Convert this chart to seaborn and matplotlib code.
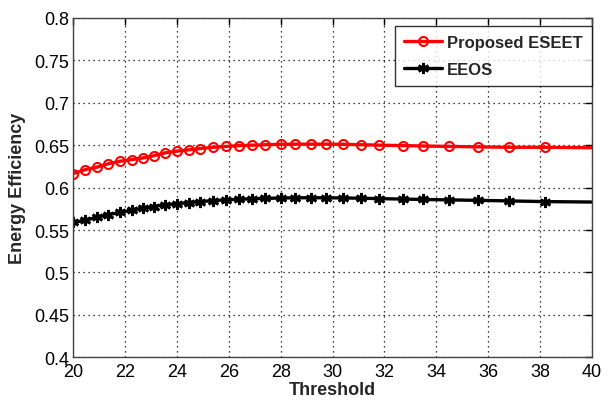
import numpy as np
import pandas as pd
import matplotlib
matplotlib.use("Agg")
import matplotlib.pyplot as plt
from matplotlib.markers import MarkerStyle
import seaborn as sns

# data (last point at 40 carries no marker)
threshold = [20, 20.45, 20.9, 21.35, 21.8, 22.25, 22.7, 23.1, 23.55, 24, 24.45, 24.9,
             25.4, 25.9, 26.4, 26.9, 27.4, 28, 28.55, 29.15, 29.75, 30.4, 31.1, 31.8,
             32.7, 33.5, 34.5, 35.6, 36.8, 38.2, 40]
eseet = [0.6165, 0.621, 0.624, 0.628, 0.631, 0.633, 0.635, 0.6375, 0.641, 0.643, 0.6445,
         0.646, 0.6475, 0.6485, 0.6495, 0.650, 0.6505, 0.651, 0.6512, 0.6512, 0.6512,
         0.651, 0.6505, 0.650, 0.6495, 0.649, 0.6485, 0.648, 0.6475, 0.6475, 0.647]
eeos = [0.559, 0.5614, 0.565, 0.568, 0.5707, 0.5735, 0.5758, 0.5777, 0.5797, 0.581,
        0.5823, 0.5835, 0.5847, 0.5855, 0.5863, 0.5868, 0.5873, 0.5877, 0.588, 0.588,
        0.588, 0.5878, 0.5875, 0.587, 0.5865, 0.586, 0.5855, 0.585, 0.5843, 0.5835, 0.583]
series_names = ["Proposed ESEET", "EEOS"]
x_ticks = [20, 22, 24, 26, 28, 30, 32, 34, 36, 38, 40]
y_ticks = [0.4, 0.45, 0.5, 0.55, 0.6, 0.65, 0.7, 0.75, 0.8]
y_tick_labels = ["0.4", "0.45", "0.5", "0.55", "0.6", "0.65", "0.7", "0.75", "0.8"]

df = pd.DataFrame({"Threshold": threshold, series_names[0]: eseet, series_names[1]: eeos})

sns.set_style("white")
plt.rcParams["font.family"] = ["Liberation Sans", "DejaVu Sans"]

fig = plt.figure(figsize=(6.1, 4.1), dpi=100)
ax = fig.add_axes([0.12, 0.126, 0.8505, 0.828])

marks = list(range(len(threshold) - 1))
sns.lineplot(data=df, x="Threshold", y=series_names[0], ax=ax, color="red", lw=2.4,
             linestyle="-", marker="o", ms=6.5, mfc="none", mec="red", mew=1.5,
             markevery=marks, label=series_names[0])
sns.lineplot(data=df, x="Threshold", y=series_names[1], ax=ax, color="black", lw=2.4,
             linestyle="-", marker=MarkerStyle((6, 2, 0)), ms=8, mew=2, mec="black",
             markevery=marks, label=series_names[1])

ax.set_xlim(20, 40)
ax.set_ylim(0.4, 0.8)
ax.set_xticks(x_ticks)
ax.set_yticks(y_ticks)
ax.set_yticklabels(y_tick_labels)
ax.tick_params(direction="in", length=5, width=1, labelsize=13, top=True, right=True,
               colors="black")
ax.tick_params(axis="x", pad=4)
ax.tick_params(axis="y", pad=3)
ax.grid(True, linestyle=(0, (1, 3)), color="black", lw=0.9)
for s in ax.spines.values():
    s.set_color("#444444")
    s.set_linewidth(1)

ax.set_xlabel("Threshold", fontsize=13, fontweight="bold", labelpad=1)
ax.set_ylabel("Energy Efficiency", fontsize=13, fontweight="bold", labelpad=6)

leg = ax.legend(loc="upper right", bbox_to_anchor=(1.0, 0.977), borderaxespad=0,
                frameon=True, fancybox=False, handlelength=2.3, handletextpad=0.3,
                borderpad=0.55, labelspacing=0.7,
                prop={"weight": "bold", "size": 12})
leg.get_frame().set_edgecolor("black")
leg.get_frame().set_linewidth(1)

fig.savefig("out.png", dpi=100)
